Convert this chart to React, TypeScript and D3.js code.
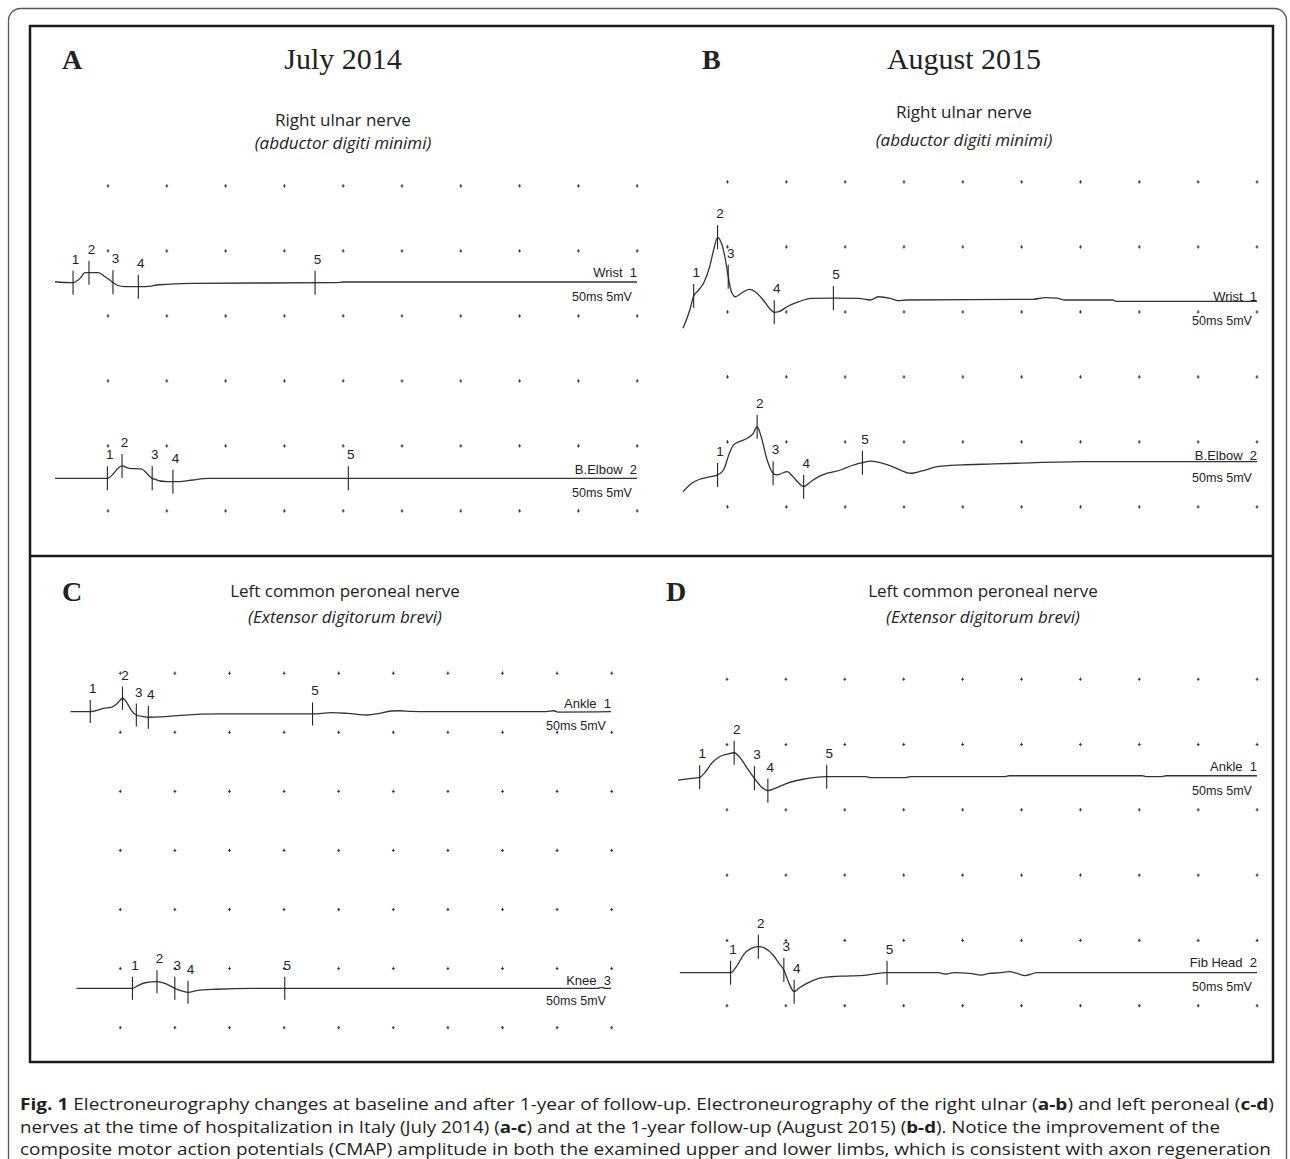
import React, { useEffect, useRef } from "react";
import * as d3 from "d3";

type Pt = [number, number]; // [time ms, amplitude mV]

// ---- data (time in ms from trace start, amplitude in mV vs. baseline) ----
const ulnar2014Wrist: Pt[] = [[0, 0.02], [0.77, -0.04], [1.55, -0.05], [2.15, 0.28], [2.58, 0.72], [2.92, 0.72], [3.72, 0.72], [4.3, 0.41], [4.79, 0.1], [5.3, -0.23], [6.01, -0.36], [7.16, -0.36], [8.31, -0.31], [8.74, -0.23], [9.6, -0.18], [11.83, -0.1], [24.1, -0.05], [24.8, 0], [50, 0]];
const ulnar2014WristMarks = [1.55, 2.92, 4.98, 7.16, 22.34];
const ulnar2014Elbow: Pt[] = [[0, 0], [4.5, 0], [5.76, 0.95], [6.37, 0.77], [7.4, 0.72], [8.35, 0], [9.62, -0.26], [10.64, -0.26], [11.83, -0.13], [13.15, 0], [50, 0]];
const ulnar2014ElbowMarks = [4.5, 5.76, 8.35, 10.13, 25.2];

const ulnar2015Wrist: Pt[] = [[0, -2.18], [0.59, -0.77], [0.93, 0.31], [1.28, 0.69], [1.8, 1.31], [2.32, 2.56], [2.67, 3.85], [3.01, 4.82], [3.35, 4.36], [3.7, 3.08], [3.94, 1.79], [4.22, 0.64], [4.56, 0.25], [5.08, 0.52], [5.78, 0.82], [6.29, 0.64], [6.99, 0], [7.67, -0.77], [7.95, -0.95], [8.36, -0.9], [9.06, -0.52], [10.1, -0.13], [11.13, 0.13], [13.1, 0.15], [15.28, 0.13], [16.32, 0], [17.02, 0.25], [18.05, 0.13], [18.74, -0.05], [19.43, 0], [30.49, 0.05], [31.52, 0.18], [32.56, 0.15], [33.26, 0], [37.4, 0], [37.74, -0.1], [50, -0.1]];
const ulnar2015WristMarks = [0.93, 3.01, 3.94, 7.95, 13.1];
const ulnar2015Elbow: Pt[] = [[0, -2.31], [0.76, -1.66], [1.45, -1.35], [2.14, -1.2], [3.01, -1.02], [3.53, -0.64], [4.04, 0.65], [4.39, 1.28], [4.91, 1.54], [5.6, 1.8], [6.12, 2.18], [6.46, 2.69], [6.81, 1.92], [7.33, 0.13], [7.85, -0.89], [8.2, -1.02], [8.71, -0.85], [9.06, -0.77], [9.58, -1.15], [10.1, -1.66], [10.51, -1.92], [11.13, -1.54], [11.82, -1.15], [12.52, -0.89], [13.21, -0.77], [13.89, -0.58], [14.59, -0.33], [15.63, -0.08], [16.32, 0.05], [17.18, -0.08], [18.39, -0.43], [19.84, -0.89], [20.81, -0.71], [22.19, -0.38], [24.27, -0.25], [26.69, -0.18], [29.1, -0.12], [34.98, 0], [50, 0]];
const ulnar2015ElbowMarks = [3.01, 6.46, 7.85, 10.51, 15.63];

const peroneal2014Ankle: Pt[] = [[0, 0], [1.76, 0], [2.31, 0.08], [3.04, 0.29], [3.77, 0.37], [4.33, 0.71], [4.81, 1.14], [5.25, 0.71], [5.61, 0.14], [6.09, -0.28], [6.72, -0.42], [7.2, -0.47], [8.73, -0.42], [10.2, -0.31], [13.88, -0.19], [22.39, -0.19], [24.15, -0.08], [25.62, -0.14], [27.46, -0.28], [28.56, -0.14], [29.66, 0.06], [30.39, 0.08], [31.49, 0.03], [32.96, 0], [43.98, 0], [44.71, 0.08], [45.08, -0.03], [50, 0]];
const peroneal2014AnkleMarks = [1.83, 4.81, 6.09, 7.2, 22.39];
const peroneal2014Knee: Pt[] = [[0.55, 0], [5.73, 0], [6.16, 0.19], [6.9, 0.47], [8.0, 0.56], [8.73, 0.42], [9.65, 0], [10.2, -0.2], [10.87, -0.34], [11.67, -0.2], [13.51, -0.08], [16.81, 0], [48.75, 0], [49.11, 0.08], [49.48, 0], [50, 0]];
const peroneal2014KneeMarks = [5.73, 8.0, 9.65, 10.87, 19.82];

const peroneal2015Ankle: Pt[] = [[0, -0.31], [1.18, -0.18], [1.87, -0.1], [2.38, 0.33], [2.9, 0.98], [3.58, 1.48], [4.27, 1.69], [4.85, 1.79], [5.3, 1.48], [5.98, 0.59], [6.6, -0.18], [7.18, -0.82], [7.76, -1.13], [8.39, -0.95], [9.41, -0.56], [10.79, -0.25], [12.84, -0.05], [16.26, -0.05], [16.61, -0.13], [19.69, -0.13], [20.03, -0.05], [28.26, -0.05], [28.6, 0.02], [40.08, 0.02], [40.42, -0.05], [41.8, -0.05], [42.14, 0.02], [50, 0.02]];
const peroneal2015AnkleMarks = [1.87, 4.85, 6.6, 7.76, 12.84];
const peroneal2015Fib: Pt[] = [[0.16, 0], [4.54, 0], [5.13, 0.59], [5.64, 1.36], [6.33, 1.87], [6.94, 2.0], [7.53, 1.87], [8.21, 1.36], [8.72, 0.72], [9.14, 0.21], [9.59, -0.82], [10.03, -1.46], [10.44, -1.2], [11.12, -0.82], [12.15, -0.43], [13.18, -0.31], [14.9, -0.25], [16.26, -0.18], [18.05, 0], [22.44, 0], [23.12, -0.1], [23.81, 0], [25.17, -0.05], [26.2, -0.18], [26.89, -0.05], [27.92, 0], [28.6, 0.08], [29.28, -0.05], [29.97, -0.23], [31.0, 0], [50, 0]];
const peroneal2015FibMarks = [4.54, 6.94, 9.14, 10.03, 18.05];

// ---- text ----
const panelLetters = ["A", "B", "C", "D"];
const panelDates = ["July 2014", "August 2015"];
const nerveTitles = ["Right ulnar nerve", "Right ulnar nerve", "Left common peroneal nerve", "Left common peroneal nerve"];
const muscleTitles = ["(abductor digiti minimi)", "(abductor digiti minimi)", "(Extensor digitorum brevi)", "(Extensor digitorum brevi)"];
const siteLabels = [["Wrist  1", "B.Elbow  2"], ["Wrist  1", "B.Elbow  2"], ["Ankle  1", "Knee  3"], ["Ankle  1", "Fib Head  2"]];
const calLabel = "50ms 5mV";
const traceData = [[ulnar2014Wrist, ulnar2014Elbow], [ulnar2015Wrist, ulnar2015Elbow], [peroneal2014Ankle, peroneal2014Knee], [peroneal2015Ankle, peroneal2015Fib]];
const traceMarks = [[ulnar2014WristMarks, ulnar2014ElbowMarks], [ulnar2015WristMarks, ulnar2015ElbowMarks], [peroneal2014AnkleMarks, peroneal2014KneeMarks], [peroneal2015AnkleMarks, peroneal2015FibMarks]];

const captionLines = [
  [["Fig. 1", true], [" Electroneurography changes at baseline and after 1-year of follow-up. Electroneurography of the right ulnar (", false], ["a-b", true], [") and left peroneal (", false], ["c-d", true], [")", false]],
  [["nerves at the time of hospitalization in Italy (July 2014) (", false], ["a-c", true], [") and at the 1-year follow-up (August 2015) (", false], ["b-d", true], ["). Notice the improvement of the", false]],
  [["composite motor action potentials (CMAP) amplitude in both the examined upper and lower limbs, which is consistent with axon regeneration", false]],
] as [string, boolean][][];

// ---- layout (pixels) ----
const W = 1290;
const H = 1159;
const layout = [
  { letterX: 62, letterY: 69, titleX: 343, subY: [126, 149], x0: 55, x1: 637, gx0: 108, gdx: 58.8, gy0: 186, gdy: 65, rows: 6, mv: 13, tick: 12,
    traces: [{ base: 282, nameDy: -5, calDy: 18.5 }, { base: 478.3, nameDy: -4.3, calDy: 18.7 }] },
  { letterX: 702, letterY: 69, titleX: 964, subY: [118, 146], x0: 683, x1: 1257, gx0: 727.5, gdx: 58.83, gy0: 182, gdy: 65, rows: 6, mv: 13, tick: 12,
    traces: [{ base: 300, nameDy: 1, calDy: 25 }, { base: 461.7, nameDy: -2, calDy: 20 }] },
  { letterX: 62, letterY: 601, titleX: 345, subY: [597, 623], x0: 70.5, x1: 611, gx0: 120.3, gdx: 54.6, gy0: 673.3, gdy: 59.07, rows: 7, mv: 11.8, tick: 11.5,
    traces: [{ base: 711.7, nameDy: -3.7, calDy: 18 }, { base: 988.3, nameDy: -3.3, calDy: 17 }] },
  { letterX: 666, letterY: 601, titleX: 983, subY: [597, 623], x0: 678, x1: 1257, gx0: 727, gdx: 58.9, gy0: 679.3, gdy: 65.3, rows: 6, mv: 13, tick: 12,
    traces: [{ base: 776, nameDy: -5, calDy: 18.5 }, { base: 972.7, nameDy: -5.7, calDy: 18.3 }] },
];

const INK = "#222";
const TRACE = "#333";
const SANS = "'Liberation Sans', Arial, sans-serif";
const SERIF = "'Liberation Serif', 'Times New Roman', serif";
const TITLE = "'Open Sans', sans-serif";

const valueAt = (pts: Pt[], t: number) => {
  const i = d3.bisector((d: Pt) => d[0]).left(pts, t);
  if (i <= 0) return pts[0][1];
  if (i >= pts.length) return pts[pts.length - 1][1];
  const [t0, v0] = pts[i - 1];
  const [t1, v1] = pts[i];
  return v0 + ((v1 - v0) * (t - t0)) / (t1 - t0);
};

export default function App() {
  const ref = useRef<SVGSVGElement>(null);

  useEffect(() => {
    const svg = d3.select(ref.current);
    svg.selectAll("*").remove();

    // outer rounded frame (runs off the bottom) and inner figure frame
    svg.append("rect").attr("x", 8.5).attr("y", 8.5).attr("width", 1278).attr("height", 1220)
      .attr("rx", 12).attr("fill", "none").attr("stroke", "#555").attr("stroke-width", 1.3);
    svg.append("rect").attr("x", 30).attr("y", 26).attr("width", 1243).attr("height", 1036)
      .attr("fill", "none").attr("stroke", "#1a1a1a").attr("stroke-width", 2.5);
    svg.append("line").attr("x1", 30).attr("x2", 1273).attr("y1", 556).attr("y2", 556)
      .attr("stroke", "#1a1a1a").attr("stroke-width", 2.5);

    layout.forEach((p, pi) => {
      const g = svg.append("g");

      // headers
      g.append("text").attr("x", p.letterX).attr("y", p.letterY).text(panelLetters[pi])
        .attr("font-family", SERIF).attr("font-weight", "bold").attr("font-size", 28).attr("fill", INK);
      if (pi < 2) {
        g.append("text").attr("x", p.titleX).attr("y", 69).attr("text-anchor", "middle").text(panelDates[pi])
          .attr("font-family", SERIF).attr("font-size", 30).attr("fill", INK);
      }
      g.append("text").attr("x", p.titleX).attr("y", p.subY[0]).attr("text-anchor", "middle").text(nerveTitles[pi])
        .attr("font-family", TITLE).attr("font-size", 17).attr("fill", INK);
      g.append("text").attr("x", p.titleX).attr("y", p.subY[1]).attr("text-anchor", "middle").text(muscleTitles[pi])
        .attr("font-family", TITLE).attr("font-style", "italic").attr("font-size", 17).attr("fill", INK);

      // dotted grid
      const cols = d3.range(10).map((i) => p.gx0 + i * p.gdx);
      const rows = d3.range(p.rows).map((j) => p.gy0 + j * p.gdy);
      const dots = cols.flatMap((cx) => rows.map((cy) => [cx, cy]));
      const dg = g.append("g").attr("stroke", "#333").attr("stroke-width", 1);
      dg.selectAll("path").data(dots).enter().append("path")
        .attr("d", (d) => `M${d[0] - 1.4},${d[1]}H${d[0] + 1.4}M${d[0]},${d[1] - 1.8}V${d[1] + 1.5}`);

      const x = d3.scaleLinear().domain([0, 50]).range([p.x0, p.x1]);

      p.traces.forEach((tr, ti) => {
        const pts = traceData[pi][ti];
        const y = d3.scaleLinear().domain([0, 1]).range([tr.base, tr.base - p.mv]);
        const line = d3.line<Pt>().x((d) => x(d[0])).y((d) => y(d[1])).curve(d3.curveMonotoneX);

        g.append("path").attr("d", line(pts)).attr("fill", "none")
          .attr("stroke", TRACE).attr("stroke-width", 1.3).attr("stroke-linejoin", "round");

        // latency / amplitude markers
        traceMarks[pi][ti].forEach((t, k) => {
          const mx = x(t);
          const my = y(valueAt(pts, t));
          g.append("line").attr("x1", mx).attr("x2", mx).attr("y1", my - p.tick).attr("y2", my + p.tick)
            .attr("stroke", INK).attr("stroke-width", 1.1);
          g.append("text").attr("x", mx + 2.5).attr("y", my - p.tick - 7).attr("text-anchor", "middle")
            .text(String(k + 1)).attr("font-family", SANS).attr("font-size", 13.5).attr("fill", INK);
        });

        // site name and calibration
        g.append("text").attr("x", p.x1).attr("y", tr.base + tr.nameDy).attr("text-anchor", "end")
          .style("white-space", "pre").text(siteLabels[pi][ti])
          .attr("font-family", SANS).attr("font-size", 13).attr("fill", INK);
        g.append("text").attr("x", p.x1 - 5).attr("y", tr.base + tr.calDy).attr("text-anchor", "end")
          .text(calLabel).attr("font-family", SANS).attr("font-size", 13).attr("fill", INK)
          .attr("textLength", 60).attr("lengthAdjust", "spacingAndGlyphs");
      });
    });

    // caption
    const capWidths = [1254, 1200, 1251];
    captionLines.forEach((parts, li) => {
      const t = svg.append("text").attr("x", 20).attr("y", 1110 + li * 22.5)
        .attr("font-family", TITLE).attr("font-size", 15.6).attr("fill", "#231f20")
        .attr("textLength", capWidths[li]).attr("lengthAdjust", "spacingAndGlyphs");
      parts.forEach(([s, bold]) => {
        t.append("tspan").text(s).attr("font-weight", bold ? "bold" : "normal");
      });
    });
  }, []);

  return (
    <svg
      ref={ref}
      width={W}
      height={H}
      style={{ position: "absolute", left: 0, top: 0, background: "#fff" }}
    />
  );
}
